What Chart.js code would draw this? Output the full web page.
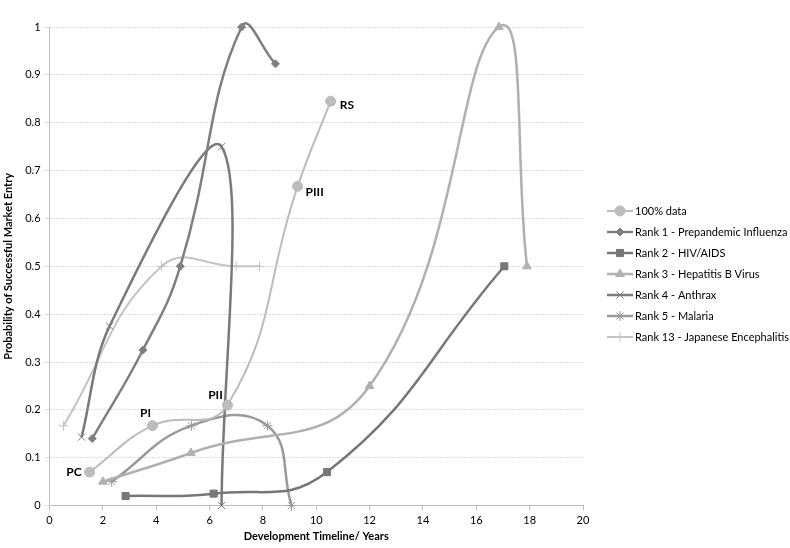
<!DOCTYPE html>
<html>
<head>
<meta charset="utf-8">
<script src="https://cdn.jsdelivr.net/npm/chart.js@4.4.1/dist/chart.umd.min.js"></script>
<style>
  html, body { margin: 0; padding: 0; background: #fff; }
  #wrap { width: 790px; height: 548px; }
</style>
</head>
<body>
<div id="wrap"><canvas id="chart" width="790" height="548"></canvas></div>
<script>
// values (x = years, y = probability)
const phaseLabels = ['PC', 'PI', 'PII', 'PIII', 'RS'];
const baseX = [1.5, 3.86, 6.67, 9.3, 10.54];
const baseY = [0.07, 0.167, 0.21, 0.667, 0.845];

const rank1X = [1.6, 3.5, 4.9, 7.2, 8.47];
const rank1Y = [0.14, 0.325, 0.5, 1.0, 0.923];

const rank2X = [2.85, 6.15, 10.4, 17.05];
const rank2Y = [0.02, 0.025, 0.07, 0.5];

const rank3X = [2.0, 5.3, 12.0, 16.85, 17.9];
const rank3Y = [0.05, 0.11, 0.25, 1.0, 0.5];

const rank4X = [1.2, 2.25, 6.45, 6.45];
const rank4Y = [0.143, 0.375, 0.75, 0];

const rank5X = [2.33, 5.32, 8.17, 9.07];
const rank5Y = [0.05, 0.167, 0.167, 0];

const rank13X = [0.52, 4.2, 7.0, 7.87];
const rank13Y = [0.167, 0.5, 0.5, 0.5];

const xTicksMax = 20;
const yTicksMax = 1;

const FONT = "Lato, 'Open Sans', sans-serif";

function pts(xs, ys) {
  return xs.map((x, i) => ({ x: x, y: ys[i] }));
}

// small line+marker picture for the legend
function sample(color, style, radius, lw) {
  const c = document.createElement('canvas');
  c.width = 26;
  c.height = 12;
  const ctx = c.getContext('2d');
  ctx.strokeStyle = color;
  ctx.fillStyle = color;
  ctx.lineWidth = lw;
  ctx.beginPath();
  ctx.moveTo(0, 6);
  ctx.lineTo(26, 6);
  ctx.stroke();
  ctx.lineWidth = 1;
  Chart.helpers.drawPoint(ctx, { pointStyle: style, radius: radius, rotation: 0, borderWidth: 1 }, 13, 6);
  return c;
}

function series(label, xs, ys, color, style, radius, lw, tension) {
  return {
    label: label,
    data: pts(xs, ys),
    borderColor: color,
    backgroundColor: color,
    borderWidth: lw,
    pointStyle: style,
    pointRadius: radius,
    pointBorderWidth: 1,
    pointBackgroundColor: color,
    pointBorderColor: color,
    showLine: true,
    tension: tension || 0.45,
    clip: false,
    legendImg: sample(color, style, radius, lw)
  };
}

const datasets = [
  series('100% data', baseX, baseY, '#bcbcbc', 'circle', 5, 2),
  series('Rank 1 - Prepandemic Influenza', rank1X, rank1Y, '#7f7f7f', 'rectRot', 4, 2.5),
  series('Rank 2 - HIV/AIDS', rank2X, rank2Y, '#777777', 'rect', 5, 2.5),
  series('Rank 3 - Hepatitis B Virus', rank3X, rank3Y, '#b0b0b0', 'triangle', 5, 2.5),
  series('Rank 4 - Anthrax', rank4X, rank4Y, '#7a7a7a', 'crossRot', 5, 2.5, 0.35),
  series('Rank 5 - Malaria', rank5X, rank5Y, '#9a9a9a', 'star', 5, 2.5),
  series('Rank 13 - Japanese Encephalitis', rank13X, rank13Y, '#c4c4c4', 'cross', 5, 2)
];

// PC / PI / ... labels next to the 100% data points
const phaseLabelPlugin = {
  id: 'phaseLabels',
  afterDatasetsDraw(chart) {
    const meta = chart.getDatasetMeta(0);
    const ctx = chart.ctx;
    const offsets = [[-8, 0, 'right'], [-7, -13, 'center'], [-12, -10, 'center'], [8, 6, 'left'], [9, 4, 'left']];
    ctx.save();
    ctx.font = "bold 12px " + FONT;
    ctx.fillStyle = '#000';
    ctx.textBaseline = 'middle';
    meta.data.forEach((p, i) => {
      const o = offsets[i];
      ctx.textAlign = o[2];
      ctx.fillText(phaseLabels[i], p.x + o[0], p.y + o[1]);
    });
    ctx.restore();
  }
};

// legend on the right, placed like the original (line sample + name)
const sideLegendPlugin = {
  id: 'sideLegend',
  afterDraw(chart) {
    const ctx = chart.ctx;
    const x0 = chart.chartArea.right + 24;
    const y0 = 211;
    ctx.save();
    ctx.font = "11px " + FONT;
    ctx.fillStyle = '#000';
    ctx.textBaseline = 'middle';
    ctx.textAlign = 'left';
    chart.data.datasets.forEach((ds, i) => {
      const y = y0 + i * 21;
      ctx.drawImage(ds.legendImg, x0, y - 6);
      ctx.fillText(ds.label, x0 + 28, y);
    });
    ctx.restore();
  }
};

new Chart(document.getElementById('chart'), {
  type: 'scatter',
  data: { datasets: datasets },
  options: {
    responsive: false,
    animation: false,
    elements: { line: { capBezierPoints: false } },
    layout: { padding: { left: 2, top: 27, right: 207, bottom: 0 } },
    plugins: {
      tooltip: { enabled: false },
      legend: { display: false }
    },
    scales: {
      x: {
        type: 'linear',
        min: 0,
        max: xTicksMax,
        ticks: { stepSize: 2, color: '#000', font: { family: FONT, size: 11 }, padding: 3 },
        grid: { drawOnChartArea: false, drawTicks: true, tickLength: 5, color: '#bfbfbf' },
        border: { color: '#bfbfbf', dash: [2, 1] },
        title: { display: true, text: 'Development Timeline/ Years', color: '#000', font: { family: FONT, size: 11, weight: 'bold' }, padding: { top: 0, bottom: 5 } }
      },
      y: {
        min: 0,
        max: yTicksMax,
        ticks: {
          stepSize: 0.1,
          color: '#000',
          font: { family: FONT, size: 11 },
          padding: 4,
          callback: (v) => String(Math.round(v * 10) / 10)
        },
        grid: { color: '#dcdcdc', tickLength: 5 },
        border: { color: '#bfbfbf', dash: [2, 1] },
        title: { display: true, text: 'Probability of Successful Market Entry', color: '#000', font: { family: FONT, size: 11, weight: 'bold' }, padding: { top: 0, bottom: 6 } }
      }
    }
  },
  plugins: [phaseLabelPlugin, sideLegendPlugin]
});
</script>
</body>
</html>
